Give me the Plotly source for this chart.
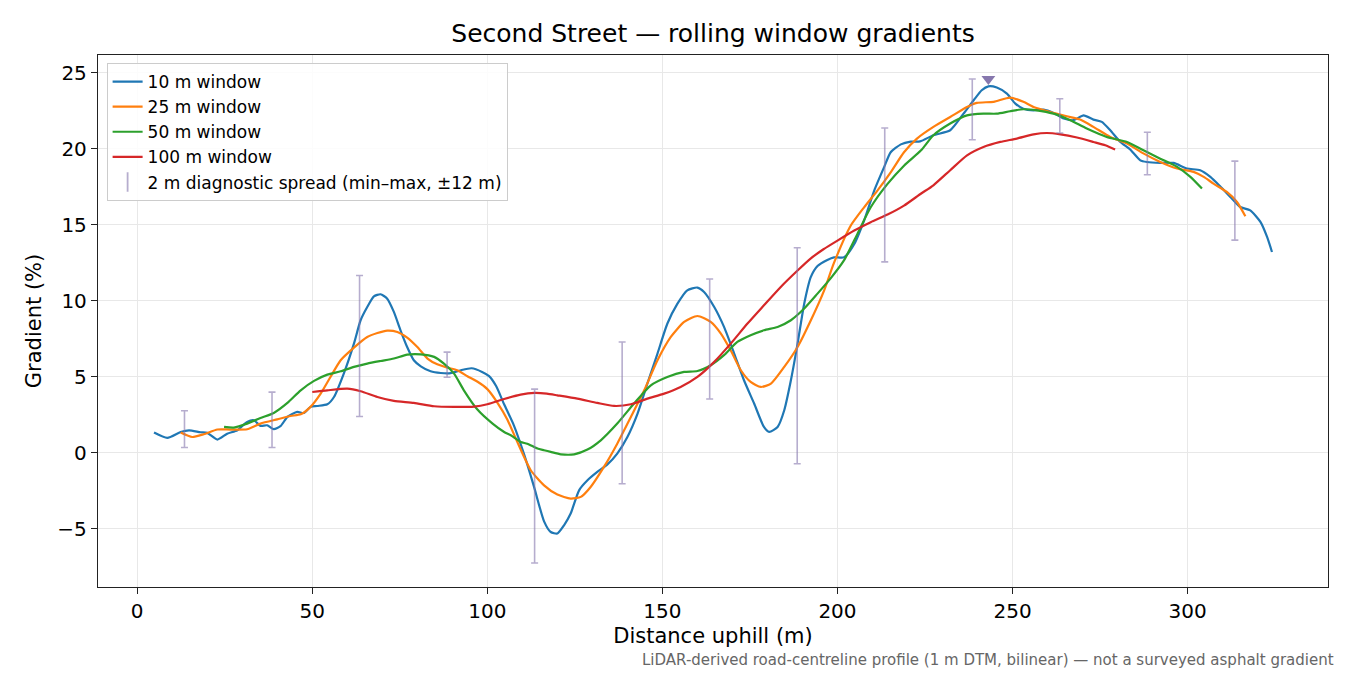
import plotly.graph_objects as go

# rolling-window gradient profiles
x10 = [4.8, 8.6, 12.4, 14.8, 18.1, 20, 22.9, 25.7, 28.6, 31.4, 33.3, 35.2, 37.1, 39, 41, 42.9, 45.7, 47.6,
       49.5, 51.4, 54.3, 56.2, 59, 61.9, 63.8, 65.7, 67.6, 69.5, 71.4, 73.3, 75.2, 77.1, 79, 81, 83.8, 86.7,
       89.5, 92.4, 95.5, 98.5, 100.5, 102.5, 104.8, 107.6, 110.5, 113.3, 116.2, 118.1, 120, 121.9, 123.8,
       126.2, 128.6, 131.4, 134.3, 137.1, 140, 142.9, 145.7, 148.6, 151.4, 154.3, 157.1, 160, 161.9, 164.8,
       167.6, 170.5, 173.3, 176.2, 179, 180.5, 182.9, 184.8, 186.7, 188.6, 190.5, 192.4, 194.3, 197.1, 199,
       201.9, 204.8, 207.6, 210.5, 213.3, 215.2, 218.1, 220.9, 223.6, 227.4, 232.2, 236, 238.9, 241.2, 243.1,
       245.5, 248.4, 250.8, 253.1, 256, 258.9, 261.7, 264.6, 267.4, 270.3, 273.1, 275.5, 277.9, 280.8, 283.6,
       286.5, 288.4, 292.2, 296, 299.8, 303.6, 306.5, 309.3, 312.2, 315, 317.9, 320.8, 322.7, 324.1]
g10 = [1.34, 0.99, 1.38, 1.49, 1.36, 1.32, 0.88, 1.27, 1.49, 2.04, 2.15, 1.78, 1.82, 1.56, 1.78, 2.37, 2.7, 2.63,
       3.03, 3.09, 3.2, 3.68, 5.22, 7.19, 8.73, 9.6, 10.3, 10.44, 10.15, 9.28, 8.07, 6.97, 6.1, 5.7, 5.37, 5.26,
       5.25, 5.44, 5.57, 5.33, 5.05, 4.4, 3.2, 1.8, -0.1, -2.2, -4.5, -5.2, -5.3, -4.76, -3.99,
       -2.46, -1.8, -1.25, -0.75, -0.04, 1.05, 2.59, 4.56, 6.54, 8.5, 9.82, 10.7, 10.88, 10.59, 9.6,
       8.29, 6.54, 4.78, 3.25, 1.71, 1.38, 1.71, 2.81, 4.78, 7.19, 9.82, 11.58, 12.3, 12.7, 12.87,
       12.87, 13.75, 15.29, 17.26, 18.79, 19.78, 20.3, 20.48, 20.5, 20.9, 21.23, 22.32, 23.2, 23.86, 24.12,
       24.04, 23.64, 22.98, 22.65, 22.54, 22.59, 22.37, 22.0, 21.89, 22.21, 21.93, 21.78, 21.23, 20.46, 19.96,
       19.25, 19.14, 19.08, 19.08, 18.71, 18.6, 18.16, 17.54, 16.84, 16.18, 15.96, 15.2, 14.21, 13.22]

x25 = [12.4, 15.7, 19, 22.9, 26.7, 31.4, 35.2, 40, 43.8, 46.7, 49.5, 52.4, 55.2, 58.1, 61.9, 65.7, 68.6, 71.4,
       74.3, 77.1, 80, 82.9, 85.7, 88.6, 91.4, 94.3, 97.1, 100, 102.9, 105.7, 108.6, 112.4, 116.2, 120, 123.8,
       126.7, 129.5, 133.3, 137.1, 141, 144.8, 148.6, 152.4, 156.2, 160, 163.8, 166.7, 169.5, 172.4, 175.2,
       178.1, 181, 184.8, 188.6, 192.4, 196.2, 199, 203.8, 207.6, 211.4, 215.2, 219, 222.7, 227.4, 232.2, 237,
       239.8, 244.6, 249.3, 253.1, 256, 260.8, 265.5, 269.3, 273.1, 277.9, 282.7, 287.5, 292.2, 297, 301.7,
       304.6, 307.4, 311.2, 314.1, 316.5]
g25 = [1.34, 1.05, 1.23, 1.54, 1.54, 1.56, 1.93, 2.21, 2.43, 2.54, 3.03, 3.9, 5.0, 6.1, 6.93, 7.63, 7.89, 8.05,
       7.96, 7.59, 6.97, 6.21, 5.83, 5.61, 5.44, 5.05, 4.7, 4.2, 3.3, 2.2, 0.7, -1.14, -2.13, -2.74, -3.0,
       -2.89, -2.24, -0.92, 0.61, 2.37, 4.12, 6.1, 7.63, 8.62, 9.01, 8.62, 7.85, 6.75, 5.44, 4.67,
       4.34, 4.56, 5.66, 6.97, 8.73, 10.7, 12.5, 14.96, 16.16, 17.26, 18.46, 19.78, 20.68, 21.45, 22.1, 22.76,
       23.03, 23.1, 23.38, 23.1, 22.76, 22.43, 22.15, 21.93, 21.45, 20.79, 20.35, 19.69, 19.14, 18.71, 18.49,
       18.16, 17.72, 17.17, 16.51, 15.57]

x50 = [24.8, 27.6, 31.4, 35.2, 39, 42.9, 46.7, 50.5, 54.3, 58.1, 61.9, 65.7, 69.5, 73.3, 77.1, 81, 84.8, 87.6,
       90.5, 93.3, 97.1, 101.5, 104.8, 106.7, 109.5, 111.4, 114.3, 116.2, 118.1, 121, 124.8, 128.6, 132.4, 137.1,
       141.9, 146.7, 151.4, 156.2, 160, 163.8, 167.6, 171.4, 175.2, 179, 182.9, 186.7, 190.5, 194.3, 198.1,
       201.9, 205.7, 209.5, 214.3, 219, 223.8, 227.4, 232.2, 237, 241.7, 245.5, 249.3, 253.1, 256.9, 261.7,
       266.5, 271.2, 276.9, 282.7, 287.4, 292.2, 297, 300.8, 304.1]
g50 = [1.71, 1.67, 1.93, 2.3, 2.63, 3.29, 4.12, 4.74, 5.15, 5.37, 5.66, 5.88, 6.05, 6.21, 6.47, 6.49, 6.32, 5.88,
       5.22, 4.12, 2.87, 1.93, 1.38, 1.16, 0.72, 0.61, 0.29, 0.18, 0.07, -0.09, -0.09, 0.22, 0.83, 1.93,
       3.25, 4.45, 5.0, 5.33, 5.39, 5.77, 6.43, 7.3, 7.74, 8.07, 8.29, 8.73, 9.5, 10.48, 11.5,
       12.68, 14.41, 16.16, 17.7, 18.9, 19.89, 20.9, 21.67, 22.21, 22.32, 22.32, 22.48, 22.61, 22.54, 22.32,
       21.89, 21.34, 20.79, 20.46, 19.91, 19.36, 18.82, 18.16, 17.39]

x100 = [50, 54.3, 60, 63.8, 68.6, 73.3, 79, 84.8, 90.5, 96.2, 100, 104.8, 109.5, 113.5, 117, 120, 125.7, 131.4,
        136.2, 141, 145.7, 150.5, 155.2, 160, 164.8, 169.5, 174.3, 179, 183.8, 188.6, 192.4, 196, 200, 204.8,
        209.5, 214.3, 219, 223.8, 227.4, 232.2, 237, 241.7, 246.5, 251.2, 256, 259.8, 263.7, 268.4, 273.1,
        276.5, 279.3]
g100 = [4.01, 4.12, 4.23, 4.06, 3.68, 3.42, 3.29, 3.07, 3.03, 3.05, 3.2, 3.55, 3.84, 3.95, 3.9, 3.79, 3.57, 3.29,
        3.09, 3.2, 3.57, 3.9, 4.34, 5.0, 5.99, 7.19, 8.51, 9.71, 10.92, 12.0, 12.8, 13.4, 13.97, 14.63,
        15.18, 15.68, 16.27, 17.05, 17.61, 18.6, 19.58, 20.13, 20.46, 20.68, 20.96, 21.05, 20.96, 20.75, 20.46,
        20.24, 19.96]

# 2 m diagnostic spread, min-max within +-12 m
spread_x = [13.5, 38.5, 63.5, 88.5, 113.5, 138.5, 163.5, 188.5, 213.5, 238.5, 263.5, 288.5, 313.5]
spread_lo = [0.36, 0.36, 2.4, 4.98, -7.24, -2.03, 3.55, -0.71, 12.57, 20.6, 21.05, 18.3, 14.0]
spread_hi = [2.78, 4.0, 11.67, 6.63, 4.2, 7.3, 11.44, 13.5, 21.38, 24.6, 23.3, 21.1, 19.2]

peak_x = [243.1]
peak_y = [24.6]

FONT = "DejaVu Sans"
PURPLE = "#8677ad"
PURPLE_A = "rgba(134,119,173,0.6)"

fig = go.Figure()

series = [("10 m window", x10, g10, "#1f77b4"),
          ("25 m window", x25, g25, "#ff7f0e"),
          ("50 m window", x50, g50, "#2ca02c"),
          ("100 m window", x100, g100, "#d62728")]
for name, xs, ys, col in series:
    fig.add_trace(go.Scatter(x=xs, y=ys, mode="lines", name=name,
                             line=dict(color=col, width=2.2, shape="spline", smoothing=0.6)))

mid = [(a + b) / 2 for a, b in zip(spread_lo, spread_hi)]
fig.add_trace(go.Scatter(
    x=spread_x, y=mid, mode="markers", showlegend=False,
    marker=dict(size=1, color="rgba(0,0,0,0)"),
    error_y=dict(type="data", symmetric=False,
                 array=[h - m for h, m in zip(spread_hi, mid)],
                 arrayminus=[m - l for m, l in zip(mid, spread_lo)],
                 color=PURPLE_A, thickness=1.6, width=3.5)))
# legend entry for the spread bars
fig.add_trace(go.Scatter(
    x=[None], y=[None], mode="markers", name="2 m diagnostic spread (min–max, ±12 m)",
    marker=dict(symbol="line-ns", size=14, line=dict(width=1.8, color=PURPLE_A))))

fig.add_trace(go.Scatter(x=peak_x, y=peak_y, mode="markers", showlegend=False,
                         marker=dict(symbol="triangle-down", size=12, color=PURPLE)))

axis_common = dict(showline=True, linecolor="#222222", linewidth=1.3, mirror=True,
                   ticks="outside", ticklen=6, tickwidth=1.3, tickcolor="#222222",
                   showgrid=True, gridcolor="#e8e8e8", gridwidth=1, zeroline=False,
                   tickfont=dict(family=FONT, size=20, color="black"))

# page body has an 8 px margin, so the margins are offset by that
fig.update_layout(
    width=1350, height=675,
    margin=dict(l=90, r=30, t=47, b=96),
    paper_bgcolor="white", plot_bgcolor="white",
    font=dict(family=FONT, color="black"),
    title=dict(text="Second Street — rolling window gradients", x=0.5, xref="paper",
               y=0.963, yanchor="middle", font=dict(family=FONT, size=25, color="black")),
    xaxis=dict(range=[-11.2, 340.1], tickvals=[0, 50, 100, 150, 200, 250, 300],
               title=dict(text="Distance uphill (m)", font=dict(family=FONT, size=21), standoff=6),
               **axis_common),
    yaxis=dict(range=[-8.82, 26.18], tickvals=[-5, 0, 5, 10, 15, 20, 25],
               title=dict(text="Gradient (%)", font=dict(family=FONT, size=21), standoff=10),
               **axis_common),
    legend=dict(x=0.007, y=0.985, xanchor="left", yanchor="top",
                bgcolor="rgba(255,255,255,0.85)", bordercolor="#cccccc", borderwidth=1,
                font=dict(family=FONT, size=17, color="black")),
    annotations=[dict(text="LiDAR-derived road-centreline profile (1 m DTM, bilinear) — not a surveyed asphalt gradient",
                      xref="paper", yref="paper", x=1.0065, y=-0.137, xanchor="right", yanchor="middle",
                      showarrow=False, font=dict(family=FONT, size=15, color="#666666"))],
)

fig.write_html("out.html")
